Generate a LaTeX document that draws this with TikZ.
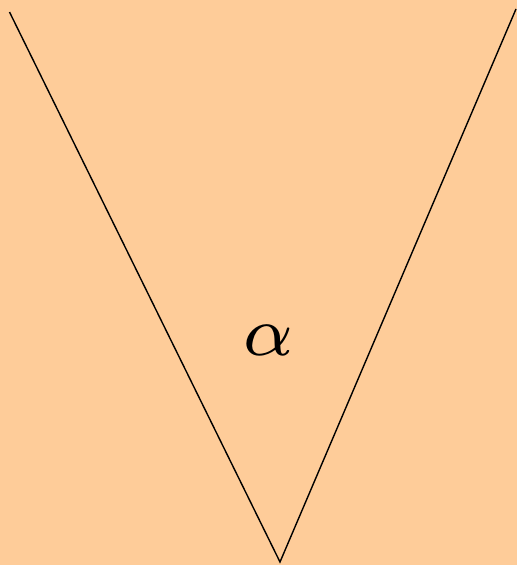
\documentclass[tikz,border=0pt]{standalone}
\usepackage{xcolor}
\usepackage{graphicx}
\definecolor{bgorange}{RGB}{254,204,153}
\begin{document}
\begin{tikzpicture}[x=1pt,y=-1pt,line width=1.4pt]
\fill[bgorange] (0,0) rectangle (517,565);
\useasboundingbox (0,0) rectangle (517,565);
\coordinate (L) at (9.5,12);
\coordinate (A) at (280,562);
\coordinate (R) at (516,9);
\draw (L) -- (A) -- (R);
\node (alpha) at (268,340) {\scalebox{10}{$\scriptstyle\alpha$}};
\end{tikzpicture}
\end{document}
